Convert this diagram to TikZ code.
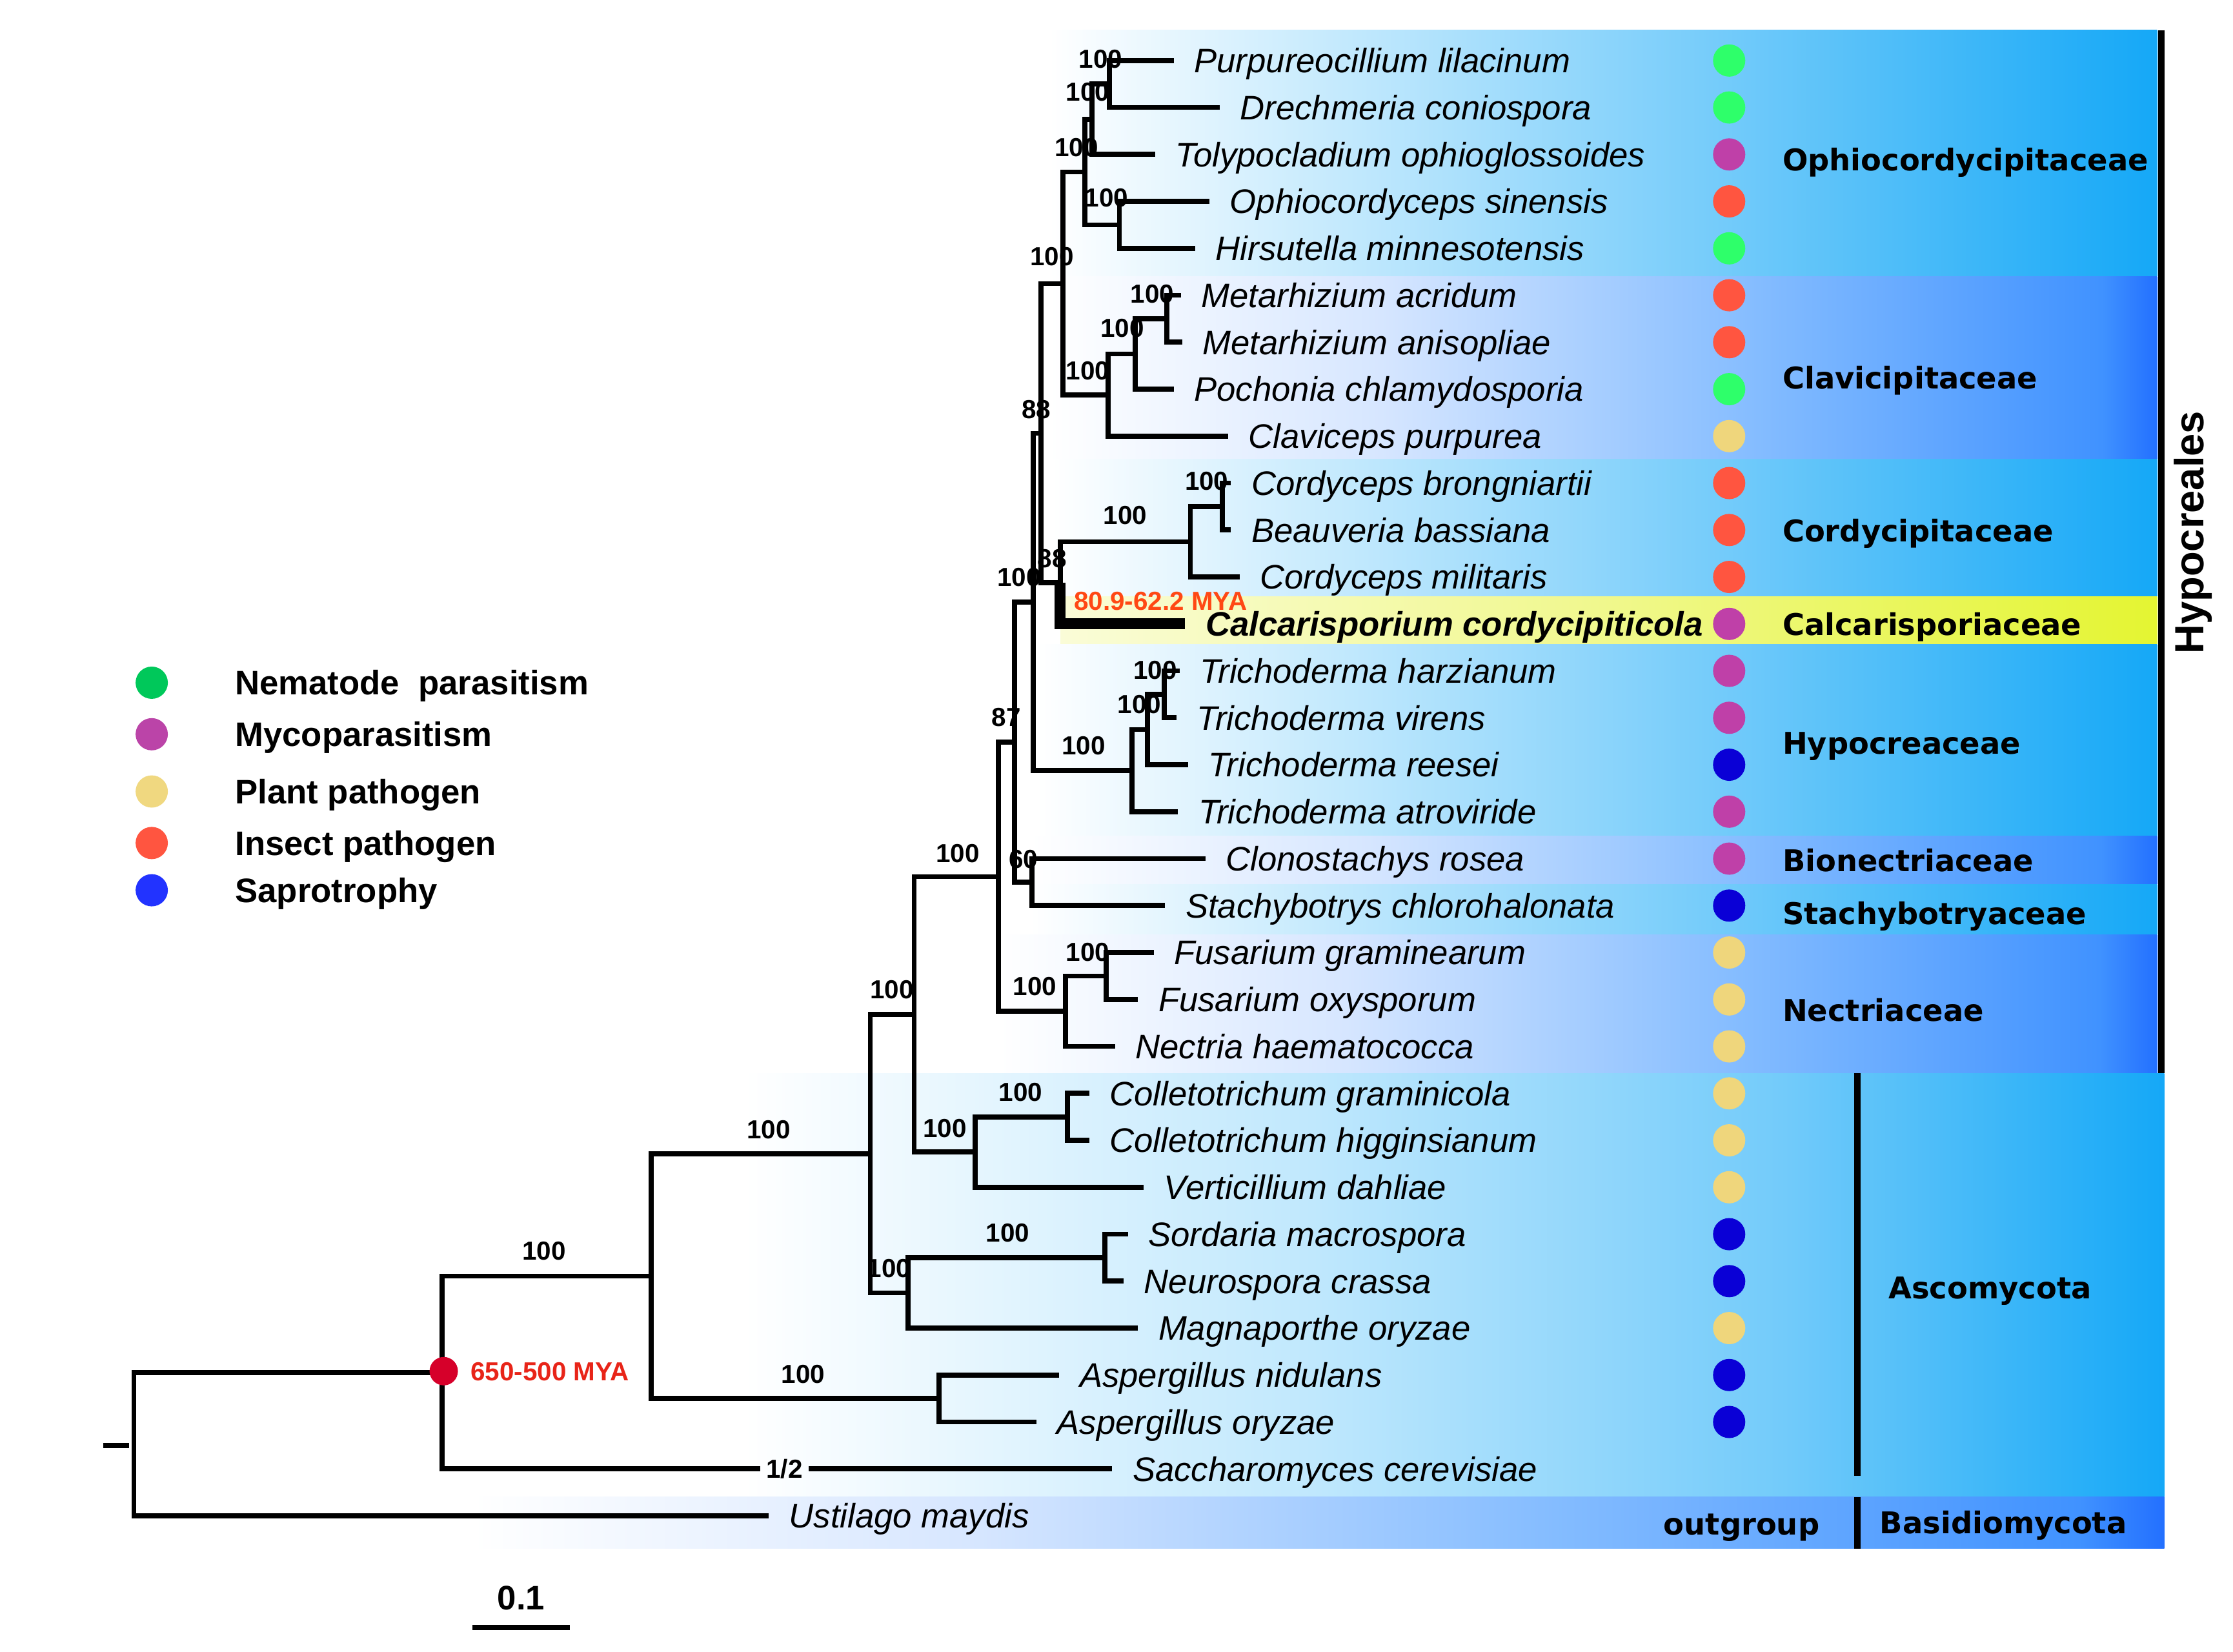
\documentclass[tikz,border=0pt]{standalone}
\usepackage{fontspec}
\setmainfont{Liberation Sans}
\newfontfamily\famfont{DejaVu Sans}
\definecolor{dgreen}{RGB}{46,255,106}
\definecolor{dpurple}{RGB}{191,64,168}
\definecolor{dred}{RGB}{255,85,64}
\definecolor{dyellow}{RGB}{239,214,124}
\definecolor{dblue}{RGB}{10,0,214}
\definecolor{lgreen}{RGB}{0,200,90}
\definecolor{lpurple}{RGB}{187,68,168}
\definecolor{lyellow}{RGB}{240,216,128}
\definecolor{lred}{RGB}{255,85,64}
\definecolor{lblue}{RGB}{34,51,255}
\definecolor{rootred}{RGB}{214,0,42}
\definecolor{myared}{RGB}{232,36,24}
\definecolor{myaorange}{RGB}{255,72,20}
\definecolor{cyA}{RGB}{192,232,253}
\definecolor{cyB}{RGB}{115,203,250}
\definecolor{cyC}{RGB}{21,168,247}
\definecolor{lvA}{RGB}{214,230,255}
\definecolor{lvB}{RGB}{132,188,255}
\definecolor{lvC}{RGB}{64,146,255}
\definecolor{lvD}{RGB}{35,112,255}
\definecolor{yeA}{RGB}{250,252,215}
\definecolor{yeB}{RGB}{240,248,140}
\definecolor{yeC}{RGB}{228,245,50}
\pgfdeclarehorizontalshading{cyanband}{100bp}{color(0bp)=(white); color(25bp)=(white); color(39bp)=(cyA); color(55.5bp)=(cyB); color(75bp)=(cyC); color(100bp)=(cyC)}
\pgfdeclarehorizontalshading{lavband}{100bp}{color(0bp)=(white); color(25bp)=(white); color(40bp)=(lvA); color(57bp)=(lvB); color(72.5bp)=(lvC); color(75bp)=(lvD); color(100bp)=(lvD)}
\pgfdeclarehorizontalshading{yelband}{100bp}{color(0bp)=(yeA); color(25bp)=(yeA); color(50bp)=(yeB); color(75bp)=(yeC); color(100bp)=(yeC)}
\pgfdeclarehorizontalshading{ascoband}{100bp}{color(0bp)=(white); color(25bp)=(white); color(45bp)=(cyA); color(61.5bp)=(cyB); color(75bp)=(cyC); color(100bp)=(cyC)}
\begin{document}
\begin{tikzpicture}[x=0.0221795cm,y=-0.0221795cm,
  br/.style={line width=2.2pt},
  thickbr/.style={line width=4.8pt},
  bar/.style={line width=2.8pt},
  taxon/.style={anchor=west,inner xsep=0.3105cm,inner ysep=0pt,text height=10.7pt,text depth=0pt,font=\fontsize{15}{15}\selectfont\itshape},
  bs/.style={inner sep=0pt,text height=8.2pt,text depth=0pt,font=\fontsize{11.5}{12}\selectfont\bfseries},
  fam/.style={anchor=west,inner sep=0pt,text height=9.6pt,text depth=0pt,font=\famfont\bfseries\fontsize{13.2}{14}\selectfont},
  leg/.style={anchor=west,inner sep=0pt,text height=10.7pt,text depth=0pt,font=\fontsize{15}{15}\selectfont\bfseries},
  tdot/.style={circle,inner sep=0pt,minimum size=0.5cm},
  mya/.style={anchor=west,inner sep=0pt,text height=8.2pt,text depth=0pt,font=\fontsize{11.5}{12}\selectfont\bfseries}]
\useasboundingbox (0,0) rectangle (1560,1154.2);
\fill[white] (0,0) rectangle (1560,1154.2);
% ---------- background bands ----------
\shade[shading=cyanband] (733,21) rectangle (1507,193);
\shade[shading=lavband] (733,193) rectangle (1507,321);
\shade[shading=cyanband] (735,321) rectangle (1507,417);
\shade[shading=yelband] (741,417) rectangle (1507,450);
\shade[shading=cyanband] (725,450) rectangle (1507,584);
\shade[shading=lavband] (720,584) rectangle (1507,618);
\shade[shading=cyanband] (720,618) rectangle (1507,653);
\shade[shading=lavband] (698,653) rectangle (1507,750);
\shade[shading=ascoband] (520,750) rectangle (1512,1046);
\shade[shading=lavband] (330,1046) rectangle (1512,1082);
% ---------- bootstrap labels ----------
\node[bs] (bA) at (769,41) {100};
\node[bs] (bB) at (760,64) {100};
\node[bs] (bC) at (752,103) {100};
\node[bs] (bD) at (773,138) {100};
\node[bs] (bE) at (735,179) {100};
\node[bs] (bI) at (805,205) {100};
\node[bs] (bH) at (784,229) {100};
\node[bs] (bG) at (760,259) {100};
\node[bs] (bF) at (724,286) {88};
\node[bs] (bL1) at (843,336) {100};
\node[bs] (bL) at (786,360) {100};
\node[bs] (bK) at (735,390) {88};
\node[bs] (bJ) at (712,403) {100};
\node[bs] (bN3) at (807,468) {100};
\node[bs] (bN2) at (796,492) {100};
\node[bs] (bN) at (757,521) {100};
\node[bs] (bM) at (703,501) {87};
\node[bs] (bP) at (715,600) {60};
\node[bs] (bO) at (669,596) {100};
\node[bs] (bR) at (760,665) {100};
\node[bs] (bQ) at (723,689) {100};
\node[bs] (bS) at (623,691) {100};
\node[bs] (bU) at (713,763) {100};
\node[bs] (bT) at (660,788) {100};
\node[bs] (bX) at (704,861) {100};
\node[bs] (bW) at (621,886) {100};
\node[bs] (bV) at (537,789) {100};
\node[bs] (bY) at (380,874) {100};
\node[bs] (bAA) at (561,960) {100};
\node[bs,inner xsep=0.09cm] (half) at (548,1026.3) {1/2};
% ---------- taxa ----------
\node[taxon] (t0) at (820,42.3) {Purpureocillium lilacinum};
\node[taxon] (t1) at (852,75.1) {Drechmeria coniospora};
\node[taxon] (t2) at (807,107.9) {Tolypocladium ophioglossoides};
\node[taxon] (t3) at (845,140.7) {Ophiocordyceps sinensis};
\node[taxon] (t4) at (835,173.5) {Hirsutella minnesotensis};
\node[taxon] (t5) at (825,206.3) {Metarhizium acridum};
\node[taxon] (t6) at (826,239.1) {Metarhizium anisopliae};
\node[taxon] (t7) at (820,271.9) {Pochonia chlamydosporia};
\node[taxon] (t8) at (858,304.7) {Claviceps purpurea};
\node[taxon] (t9) at (860,337.5) {Cordyceps brongniartii};
\node[taxon] (t10) at (860,370.3) {Beauveria bassiana};
\node[taxon] (t11) at (866,403.1) {Cordyceps militaris};
\node[taxon,font=\fontsize{15}{15}\selectfont\bfseries\itshape] (t12) at (828,435.9) {Calcarisporium cordycipiticola};
\node[taxon] (t13) at (824,468.7) {Trichoderma harzianum};
\node[taxon] (t14) at (822,501.5) {Trichoderma virens};
\node[taxon] (t15) at (830,534.3) {Trichoderma reesei};
\node[taxon] (t16) at (823,567.1) {Trichoderma atroviride};
\node[taxon] (t17) at (842,599.9) {Clonostachys rosea};
\node[taxon] (t18) at (814,632.7) {Stachybotrys chlorohalonata};
\node[taxon] (t19) at (806,665.5) {Fusarium graminearum};
\node[taxon] (t20) at (795,698.3) {Fusarium oxysporum};
\node[taxon] (t21) at (779,731.1) {Nectria haematococca};
\node[taxon] (t22) at (761,763.9) {Colletotrichum graminicola};
\node[taxon] (t23) at (761,796.7) {Colletotrichum higginsianum};
\node[taxon] (t24) at (799,829.5) {Verticillium dahliae};
\node[taxon] (t25) at (788,862.3) {Sordaria macrospora};
\node[taxon] (t26) at (785,895.1) {Neurospora crassa};
\node[taxon] (t27) at (795,927.9) {Magnaporthe oryzae};
\node[taxon] (t28) at (740,960.7) {Aspergillus nidulans};
\node[taxon] (t29) at (724,993.5) {Aspergillus oryzae};
\node[taxon] (t30) at (777,1026.3) {Saccharomyces cerevisiae};
\node[taxon] (t31) at (537,1059.1) {Ustilago maydis};
% ---------- internal nodes ----------
\coordinate (nA) at (775,58.7);
\coordinate (nB) at (763,83.3);
\coordinate (nD) at (782,157.1);
\coordinate (nC) at (758,120.2);
\coordinate (nI) at (815,222.7);
\coordinate (nH) at (793,247.3);
\coordinate (nG) at (774,276.0);
\coordinate (nE) at (742.5,198.1);
\coordinate (nL1) at (854,353.9);
\coordinate (nL) at (831.6,378.5);
\coordinate (nK) at (740.7,407.2);
\coordinate (nF) at (727.4,302.7);
\coordinate (nN3) at (813.4,485.1);
\coordinate (nN2) at (801.7,509.7);
\coordinate (nN) at (790.8,538.4);
\coordinate (nJ) at (721.7,420.6);
\coordinate (nP) at (720.8,616.3);
\coordinate (nM) at (708.6,518.5);
\coordinate (nR) at (772.9,681.9);
\coordinate (nQ) at (744.4,706.5);
\coordinate (nO) at (697.6,612.5);
\coordinate (nU) at (745.8,780.3);
\coordinate (nT) at (681.4,804.9);
\coordinate (nS) at (638.6,708.7);
\coordinate (nX) at (772,878.7);
\coordinate (nW) at (634.2,903.3);
\coordinate (nV) at (608,806.0);
\coordinate (nAA) at (656,977.1);
\coordinate (nY) at (455,891.6);
\coordinate (nZ) at (309,959.0);
\coordinate (nRoot) at (93.5,1009.05);
\coordinate (stubL) at (72,1010);
\coordinate (stubR) at (90,1010);
% ---------- branches ----------
\draw[br] (nA) |- (t0.west);
\draw[br] (nA) |- (t1.west);
\draw[br] (nB) |- (nA);
\draw[br] (nB) |- (t2.west);
\draw[br] (nD) |- (t3.west);
\draw[br] (nD) |- (t4.west);
\draw[br] (nC) |- (nB);
\draw[br] (nC) |- (nD);
\draw[br] (nI) |- (t5.west);
\draw[br] (nI) |- (t6.west);
\draw[br] (nH) |- (nI);
\draw[br] (nH) |- (t7.west);
\draw[br] (nG) |- (nH);
\draw[br] (nG) |- (t8.west);
\draw[br] (nE) |- (nC);
\draw[br] (nE) |- (nG);
\draw[br] (nL1) |- (t9.west);
\draw[br] (nL1) |- (t10.west);
\draw[br] (nL) |- (nL1);
\draw[br] (nL) |- (t11.west);
\draw[br] (nK) |- (nL);
\draw[thickbr] (nK) |- (t12.west);
\draw[br] (nF) |- (nE);
\draw[br] (nF) |- (nK);
\draw[br] (nN3) |- (t13.west);
\draw[br] (nN3) |- (t14.west);
\draw[br] (nN2) |- (nN3);
\draw[br] (nN2) |- (t15.west);
\draw[br] (nN) |- (nN2);
\draw[br] (nN) |- (t16.west);
\draw[br] (nJ) |- (nF);
\draw[br] (nJ) |- (nN);
\draw[br] (nP) |- (t17.west);
\draw[br] (nP) |- (t18.west);
\draw[br] (nM) |- (nJ);
\draw[br] (nM) |- (nP);
\draw[br] (nR) |- (t19.west);
\draw[br] (nR) |- (t20.west);
\draw[br] (nQ) |- (nR);
\draw[br] (nQ) |- (t21.west);
\draw[br] (nO) |- (nM);
\draw[br] (nO) |- (nQ);
\draw[br] (nU) |- (t22.west);
\draw[br] (nU) |- (t23.west);
\draw[br] (nT) |- (nU);
\draw[br] (nT) |- (t24.west);
\draw[br] (nS) |- (nO);
\draw[br] (nS) |- (nT);
\draw[br] (nX) |- (t25.west);
\draw[br] (nX) |- (t26.west);
\draw[br] (nW) |- (nX);
\draw[br] (nW) |- (t27.west);
\draw[br] (nV) |- (nS);
\draw[br] (nV) |- (nW);
\draw[br] (nAA) |- (t28.west);
\draw[br] (nAA) |- (t29.west);
\draw[br] (nY) |- (nV);
\draw[br] (nY) |- (nAA);
\draw[br] (nZ) |- (nY);
\draw[br] (nZ) |- (half.west);
\draw[br] (half.east) -- (t30.west);
\draw[br] (nRoot) |- (nZ);
\draw[br] (nRoot) |- (t31.west);
\draw[br] (stubL) -- (stubR);
% ---------- dates ----------
\node[circle,fill=rootred,inner sep=0pt,minimum size=0.44cm] (mrca) at (310,958) {};
\node[mya,text=myared] (mya1) at (328.5,958) {650-500 MYA};
\node[mya,text=myaorange] (mya2) at (750,420) {80.9-62.2 MYA};
% ---------- trait dots ----------
\node[tdot,fill=dgreen] (d0) at (1208,42.3) {};
\node[tdot,fill=dgreen] (d1) at (1208,75.1) {};
\node[tdot,fill=dpurple] (d2) at (1208,107.9) {};
\node[tdot,fill=dred] (d3) at (1208,140.7) {};
\node[tdot,fill=dgreen] (d4) at (1208,173.5) {};
\node[tdot,fill=dred] (d5) at (1208,206.3) {};
\node[tdot,fill=dred] (d6) at (1208,239.1) {};
\node[tdot,fill=dgreen] (d7) at (1208,271.9) {};
\node[tdot,fill=dyellow] (d8) at (1208,304.7) {};
\node[tdot,fill=dred] (d9) at (1208,337.5) {};
\node[tdot,fill=dred] (d10) at (1208,370.3) {};
\node[tdot,fill=dred] (d11) at (1208,403.1) {};
\node[tdot,fill=dpurple] (d12) at (1208,435.9) {};
\node[tdot,fill=dpurple] (d13) at (1208,468.7) {};
\node[tdot,fill=dpurple] (d14) at (1208,501.5) {};
\node[tdot,fill=dblue] (d15) at (1208,534.3) {};
\node[tdot,fill=dpurple] (d16) at (1208,567.1) {};
\node[tdot,fill=dpurple] (d17) at (1208,599.9) {};
\node[tdot,fill=dblue] (d18) at (1208,632.7) {};
\node[tdot,fill=dyellow] (d19) at (1208,665.5) {};
\node[tdot,fill=dyellow] (d20) at (1208,698.3) {};
\node[tdot,fill=dyellow] (d21) at (1208,731.1) {};
\node[tdot,fill=dyellow] (d22) at (1208,763.9) {};
\node[tdot,fill=dyellow] (d23) at (1208,796.7) {};
\node[tdot,fill=dyellow] (d24) at (1208,829.5) {};
\node[tdot,fill=dblue] (d25) at (1208,862.3) {};
\node[tdot,fill=dblue] (d26) at (1208,895.1) {};
\node[tdot,fill=dyellow] (d27) at (1208,927.9) {};
\node[tdot,fill=dblue] (d28) at (1208,960.7) {};
\node[tdot,fill=dblue] (d29) at (1208,993.5) {};
% ---------- family labels ----------
\node[fam] (fOph) at (1245,111.8) {Ophiocordycipitaceae};
\node[fam] (fCla) at (1245,263.9) {Clavicipitaceae};
\node[fam] (fCor) at (1245,370.8) {Cordycipitaceae};
\node[fam] (fCal) at (1245,436.4) {Calcarisporiaceae};
\node[fam] (fHyp) at (1245,519.2) {Hypocreaceae};
\node[fam] (fBio) at (1245,601.1) {Bionectriaceae};
\node[fam] (fSta) at (1245,638.1) {Stachybotryaceae};
\node[fam] (fNec) at (1245,705.8) {Nectriaceae};
\node[fam] (fAsc) at (1319,899.8) {Ascomycota};
\node[fam] (fBas) at (1313,1064) {Basidiomycota};
\node[fam] (fOut) at (1162,1065) {outgroup};
\node[rotate=90,inner sep=0pt,font=\fontsize{18}{18}\selectfont\bfseries] (hypo) at (1532,372) {Hypocreales};
\coordinate (hTop) at (1510,21);
\coordinate (hBot) at (1510,750);
\coordinate (aTop) at (1297.5,750);
\coordinate (aBot) at (1297.5,1031);
\coordinate (bTop) at (1297.5,1046);
\coordinate (bBot) at (1297.5,1082);
\draw[bar] (hTop) -- (hBot);
\draw[bar] (aTop) -- (aBot);
\draw[bar] (bTop) -- (bBot);
% ---------- legend ----------
\node[tdot,fill=lgreen] (lg1) at (106,477) {};
\node[tdot,fill=lpurple] (lg2) at (106,513) {};
\node[tdot,fill=lyellow] (lg3) at (106,553) {};
\node[tdot,fill=lred] (lg4) at (106,589) {};
\node[tdot,fill=lblue] (lg5) at (106,622) {};
\node[leg] (lt1) at (164,477) {Nematode\ \ parasitism};
\node[leg] (lt2) at (164,513) {Mycoparasitism};
\node[leg] (lt3) at (164,553) {Plant pathogen};
\node[leg] (lt4) at (164,589) {Insect pathogen};
\node[leg] (lt5) at (164,622) {Saprotrophy};
% ---------- scale bar ----------
\node[inner sep=0pt,text height=10.7pt,text depth=0pt,font=\fontsize{15}{15}\selectfont\bfseries] (scl) at (364,1116) {0.1};
\coordinate (sbL) at (330,1137);
\coordinate (sbR) at (398,1137);
\draw[line width=2.3pt] (sbL) -- (sbR);
\end{tikzpicture}
\end{document}
